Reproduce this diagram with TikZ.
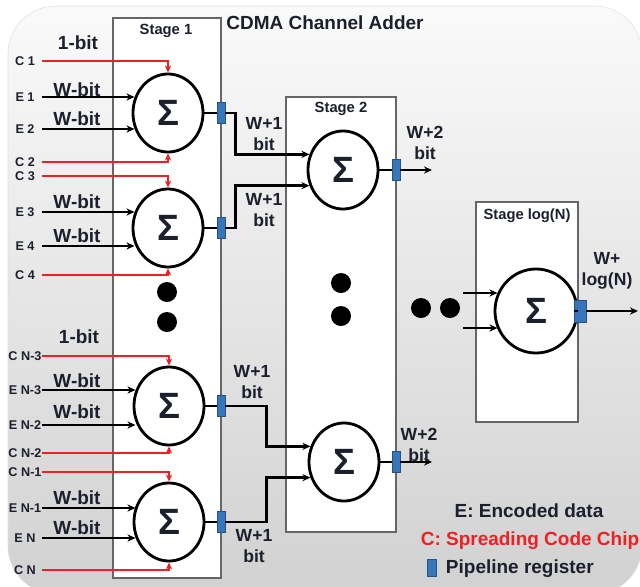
\documentclass[tikz,border=0pt]{standalone}
\usepackage{fontspec}
\setmainfont{Liberation Sans}
\usetikzlibrary{arrows.meta,shapes.geometric}
\definecolor{chipred}{RGB}{238,32,36}
\definecolor{regblue}{RGB}{56,118,188}
\definecolor{txtdark}{RGB}{28,32,44}
\begin{document}
\begin{tikzpicture}[x=0.025cm,y=-0.025cm,
  every node/.style={font=\bfseries,text=txtdark},
  stagebox/.style={draw=black!60,line width=1pt,fill=white},
  stagelbl/.style={font=\fontsize{10.5}{11}\selectfont\bfseries},
  sigma/.style={draw=black,line width=2pt,ellipse,fill=white,minimum width=1.75cm,minimum height=1.95cm,inner sep=0pt,font=\fontsize{26}{26}\selectfont\bfseries},
  reg/.style={draw=regblue!70!black,fill=regblue,line width=0.5pt,minimum width=0.2cm,minimum height=0.52cm,inner sep=0pt},
  inlbl/.style={font=\fontsize{9}{9}\selectfont\bfseries,minimum width=0.85cm,inner sep=0pt},
  bitlbl/.style={font=\fontsize{13.5}{14}\selectfont\bfseries},
  sumlbl/.style={font=\fontsize{12.5}{14.5}\selectfont\bfseries,align=center},
  wire/.style={line width=1.8pt},
  datawire/.style={line width=1.8pt,-{Stealth[length=2mm,width=1.8mm]}},
  chipwire/.style={chipred,line width=1.4pt,-{Stealth[length=1.8mm,width=1.6mm]}},
  bigdot/.style={circle,fill=black,minimum size=0.5cm,inner sep=0pt}]
  \useasboundingbox (0,0) rectangle (640,587);
  \shade[top color=white!98!black,bottom color=black!18,draw=black!12,rounded corners=1.2cm] (8,6) rectangle (642,594);
  % stage frames
  \draw[stagebox] (113,18) rectangle (221,578);
  \draw[stagebox] (286,97) rectangle (396,532);
  \draw[stagebox] (476,202) rectangle (578,422);
  \node[font=\fontsize{13.5}{14}\selectfont\bfseries] (title) at (325,23) {CDMA Channel Adder};
  \node[stagelbl] (st1) at (166,31) {Stage 1};
  \node[stagelbl] (st2) at (341,109) {Stage 2};
  \node[stagelbl] (stlog) at (527,216) {Stage log(N)};
  % adders
  \node[sigma] (s11) at (168,113) {Σ};
  \node[sigma] (s12) at (168,228) {Σ};
  \node[sigma] (s13) at (169,406) {Σ};
  \node[sigma] (s14) at (169,522) {Σ};
  \node[sigma] (s21) at (343,170) {Σ};
  \node[sigma] (s22) at (344,462) {Σ};
  \node[sigma,minimum width=2.05cm,minimum height=2.1cm] (slog) at (536,311) {Σ};
  % pipeline registers
  \node[reg] (r11) at (221,113) {};
  \node[reg] (r12) at (221,228) {};
  \node[reg] (r13) at (221,406) {};
  \node[reg] (r14) at (221,522) {};
  \node[reg] (r21) at (396,170) {};
  \node[reg] (r22) at (396,462) {};
  \node[reg,minimum width=0.3cm,minimum height=0.55cm] (rlog) at (580,311) {};
  % inputs
  \node[inlbl] (c1) at (25,61) {C 1};
  \node[inlbl] (e1) at (25,97) {E 1};
  \node[inlbl] (e2) at (25,129) {E 2};
  \node[inlbl] (c2) at (25,162) {C 2};
  \node[inlbl] (c3) at (25,176) {C 3};
  \node[inlbl] (e3) at (25,212) {E 3};
  \node[inlbl] (e4) at (25,246) {E 4};
  \node[inlbl] (c4) at (25,275) {C 4};
  \node[inlbl] (cn3) at (25,356) {C N-3};
  \node[inlbl] (en3) at (25,390) {E N-3};
  \node[inlbl] (en2) at (25,425) {E N-2};
  \node[inlbl] (cn2) at (25,453) {C N-2};
  \node[inlbl] (cn1) at (25,472) {C N-1};
  \node[inlbl] (en1) at (25,508) {E N-1};
  \node[inlbl] (en) at (25,538) {E N};
  \node[inlbl] (cn) at (25,570) {C N};
  \draw[chipwire] (c1.east) -| (s11.north);
  \draw[chipwire] (c2.east) -| (s11.south);
  \draw[chipwire] (c3.east) -| (s12.north);
  \draw[chipwire] (c4.east) -| (s12.south);
  \draw[chipwire] (cn3.east) -| (s13.north);
  \draw[chipwire] (cn2.east) -| (s13.south);
  \draw[chipwire] (cn1.east) -| (s14.north);
  \draw[chipwire] (cn.east) -| (s14.south);
  \draw[datawire] (e1.east) -- (e1.east -| s11.155);
  \draw[datawire] (e2.east) -- (e2.east -| s11.205);
  \draw[datawire] (e3.east) -- (e3.east -| s12.155);
  \draw[datawire] (e4.east) -- (e4.east -| s12.205);
  \draw[datawire] (en3.east) -- (en3.east -| s13.155);
  \draw[datawire] (en2.east) -- (en2.east -| s13.205);
  \draw[datawire] (en1.east) -- (en1.east -| s14.155);
  \draw[datawire] (en.east) -- (en.east -| s14.205);
  \node[bitlbl] (b1) at (78,43) {1-bit};
  \node[bitlbl] (w1) at (77,90) {W-bit};
  \node[bitlbl] (w2) at (77,119) {W-bit};
  \node[bitlbl] (w3) at (77,202) {W-bit};
  \node[bitlbl] (w4) at (77,236) {W-bit};
  \node[bitlbl] (b2) at (79,337) {1-bit};
  \node[bitlbl] (w5) at (77,381) {W-bit};
  \node[bitlbl] (w6) at (77,412) {W-bit};
  \node[bitlbl] (w7) at (77,498) {W-bit};
  \node[bitlbl] (w8) at (77,528) {W-bit};
  % stage 1 -> stage 2
  \draw[wire] (s11) -- (r11);
  \draw[wire] (s12) -- (r12);
  \draw[wire] (s13) -- (r13);
  \draw[wire] (s14) -- (r14);
  \draw[datawire] (r11.east) -- ++(10,0) |- (s21.155);
  \draw[datawire] (r12.east) -- ++(10,0) |- (s21.205);
  \draw[datawire] (r13.east) -- ++(41,0) |- (s22.155);
  \draw[datawire] (r14.east) -- ++(41,0) |- (s22.205);
  \node[sumlbl] (l11) at (264,134) {W+1\\bit};
  \node[sumlbl] (l12) at (264,210) {W+1\\bit};
  \node[sumlbl] (l13) at (252,382) {W+1\\bit};
  \node[sumlbl] (l14) at (254,546) {W+1\\bit};
  % stage 2 outputs
  \coordinate (o21) at (432,170);
  \coordinate (o22) at (432,462);
  \draw[wire] (s21) -- (r21);
  \draw[wire] (s22) -- (r22);
  \draw[datawire] (r21) -- (o21);
  \draw[datawire] (r22) -- (o22);
  \node[sumlbl] (l21) at (425,143) {W+2\\bit};
  \node[sumlbl] (l22) at (419,445) {W+2\\bit};
  % last stage
  \coordinate (i1) at (463,293);
  \coordinate (i2) at (463,328);
  \coordinate (olog) at (638,311);
  \draw[datawire] (i1) -- (i1 -| slog.155);
  \draw[datawire] (i2) -- (i2 -| slog.205);
  \draw[wire] (slog) -- (rlog);
  \draw[datawire] (rlog) -- (olog);
  \node[sumlbl] (llog) at (607,271) {W+\\log(N)};
  % dots
  \node[bigdot] (d1) at (167,292) {};
  \node[bigdot] (d2) at (167,322) {};
  \node[bigdot] (d3) at (341,283) {};
  \node[bigdot] (d4) at (341,316) {};
  \node[bigdot] (d5) at (421,308) {};
  \node[bigdot] (d6) at (450,308) {};
  % legend
  \node[bitlbl] (leg1) at (529,511) {E: Encoded data};
  \node[bitlbl,text=chipred] (leg2) at (530,541) {C: Spreading Code Chip};
  \node[reg,minimum width=0.22cm,minimum height=0.42cm] (legreg) at (432,568) {};
  \node[bitlbl,anchor=west] (leg3) at (441,569) {Pipeline register};
\end{tikzpicture}
\end{document}
